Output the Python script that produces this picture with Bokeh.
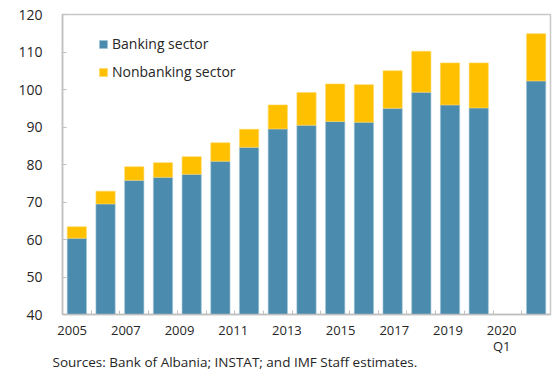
import math
from bokeh.plotting import figure
from bokeh.models import Range1d, FixedTicker, Legend, LegendItem, Title, ColumnDataSource, LinearAxis
from bokeh.embed import file_html
from bokeh.resources import INLINE

categories = ["2005", "2006", "2007", "2008", "2009", "2010", "2011", "2012", "2013",
              "2014", "2015", "2016", "2017", "2018", "2019", "", "2020Q1"]
tick_labels = ["2005", "", "2007", "", "2009", "", "2011", "", "2013",
               "", "2015", "", "2017", "", "2019", "", "2020\nQ1"]
banking = [60.35, 69.5, 75.8, 76.6, 77.4, 80.9, 84.6, 89.5, 90.5,
           91.5, 91.3, 95.0, 99.3, 95.9, 95.1, float("nan"), 102.3]
total = [63.4, 72.9, 79.4, 80.5, 82.1, 85.8, 89.4, 95.9, 99.2,
         101.5, 101.3, 105.0, 110.2, 107.1, 107.1, float("nan"), 114.9]
nonbanking = [t - b for t, b in zip(total, banking)]
source_note = "Sources: Bank of Albania; INSTAT; and IMF Staff estimates."

FONT = "Open Sans"
TXT = "#262626"
BLUE = "#4B8BAD"
GOLD = "#FFC000"

xs = list(range(len(categories)))
src = ColumnDataSource(dict(x=xs, banking=banking, nonbanking=nonbanking,
                            bottom=[40] * len(xs), total=total))

p = figure(width=559, height=371, output_backend="svg", toolbar_location=None,
           x_range=Range1d(-0.5, len(categories) - 0.5), y_range=Range1d(40, 120),
           min_border_left=62, min_border_top=14, min_border_right=9, min_border_bottom=57)
# label positions in the original sit on a slightly narrower spacing than the bars
p.extra_x_ranges = {"lab": Range1d(-0.361, 17.82)}
p.background_fill_color = "white"
p.border_fill_color = "white"
p.outline_line_color = "#C8C8C8"
p.outline_line_width = 1.5
p.xgrid.visible = False
p.ygrid.visible = False

r1 = p.vbar(x="x", bottom="bottom", top="banking", width=0.67, source=src,
            fill_color=BLUE, line_color="#9CC3D6", line_width=0.6)
r2 = p.vbar(x="x", bottom="banking", top="total", width=0.67, source=src,
            fill_color=GOLD, line_color="#FFD966", line_width=0.6)

# y axis
p.yaxis.ticker = FixedTicker(ticks=list(range(40, 121, 10)))
p.yaxis.major_tick_in = 4
p.yaxis.major_tick_out = 0
p.yaxis.minor_tick_line_color = None
p.yaxis.axis_line_color = "#BFBFBF"
p.yaxis.axis_line_width = 1.5
p.yaxis.major_tick_line_color = "#BFBFBF"
p.yaxis.major_label_text_font = FONT
p.yaxis.major_label_text_font_size = "14px"
p.yaxis.major_label_text_color = TXT
p.yaxis.major_label_standoff = 20

# x axis: line + boundary ticks
p.xaxis.ticker = FixedTicker(ticks=[], minor_ticks=[i + 0.5 for i in xs[:-1]])
p.xaxis.major_tick_line_color = None
p.xaxis.minor_tick_in = 4
p.xaxis.minor_tick_out = 0
p.xaxis.minor_tick_line_color = "#BFBFBF"
p.xaxis.axis_line_color = "#BFBFBF"
p.xaxis.axis_line_width = 1.5
p.xaxis.major_label_text_font_size = "0px"
p.xaxis.major_label_standoff = 0

# x labels axis
lab_axis = LinearAxis(x_range_name="lab", ticker=FixedTicker(ticks=xs))
lab_axis.major_label_overrides = {i: lab for i, lab in zip(xs, tick_labels)}
lab_axis.axis_line_color = None
lab_axis.major_tick_line_color = None
lab_axis.minor_tick_line_color = None
lab_axis.major_label_text_font = FONT
lab_axis.major_label_text_font_size = "13px"
lab_axis.major_label_text_color = TXT
lab_axis.major_label_text_line_height = 0.9
lab_axis.major_label_standoff = 0
p.add_layout(lab_axis, "below")

legend = Legend(items=[LegendItem(label="Banking sector", renderers=[r1]),
                       LegendItem(label="Nonbanking sector", renderers=[r2])],
                location=(36, 233), orientation="vertical")
legend.background_fill_alpha = 0
legend.border_line_color = None
legend.label_text_font = FONT
legend.label_text_font_size = "14px"
legend.label_text_color = TXT
legend.glyph_width = 10
legend.glyph_height = 10
legend.spacing = 9
legend.margin = 0
legend.padding = 0
legend.label_standoff = 4
p.add_layout(legend)

note = Title(text=source_note, text_font=FONT, text_font_size="13.5px",
             text_font_style="normal", text_color=TXT, align="left",
             offset=-10, standoff=0, vertical_align="top")
try:
    note.standoff = -10
except Exception:
    note.text_line_height = 0.6
p.add_layout(note, "below")

open("out.html", "w").write(file_html(p, INLINE))
